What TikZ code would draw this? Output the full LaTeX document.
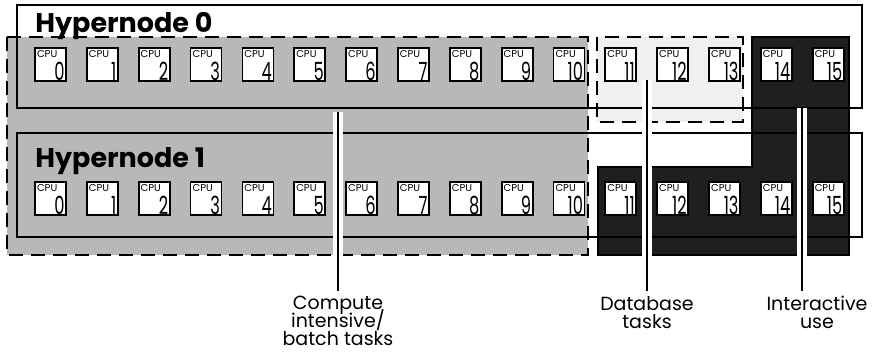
\documentclass[tikz,border=0pt]{standalone}
\usepackage{graphicx}
\usepackage{fontspec}
\setmainfont{Poppins}
\usetikzlibrary{calc}

\newcommand{\cpudigit}[1]{\scalebox{0.65}[1]{#1}}
\newcommand{\tightlines}{\fontsize{9.5}{9}\selectfont\setlength{\lineskiplimit}{-20pt}}

\tikzset{
  cpubox/.style={draw,fill=white,line width=0.9pt,minimum width=15.5pt,minimum height=16.5pt,inner sep=0pt},
  cputag/.style={font=\fontsize{5}{5}\selectfont,inner sep=0pt,anchor=north west},
  cpunum/.style={font=\fontsize{12.5}{12.5}\selectfont,inner sep=0pt,anchor=south east},
  region/.style={dash pattern=on 7pt off 4pt,line width=1.1pt},
  hyperbox/.style={line width=0.8pt},
  leader/.style={line width=1pt},
  halo/.style={white,line width=5pt},
  hlabel/.style={font=\fontsize{13.5}{13.5}\selectfont\bfseries,inner sep=0pt,anchor=base west},
  tasklabel/.style={font=\tightlines,align=center,inner sep=0pt,anchor=north}
}

\begin{document}
\begin{tikzpicture}[x=0.5pt,y=-0.5pt]
    \useasboundingbox (0,0) rectangle (876,361);
    % task regions
    \filldraw[region,fill=black!28] (7,37) rectangle (588,255);
    \filldraw[region,fill=black!6] (597,37) rectangle (743,122);
    \filldraw[line width=1pt,fill=black!88] (752,37) -- (849,37) -- (849,255)
      -- (598,255) -- (598,167) -- (752,167) -- cycle;
    % hypernodes
    \draw[hyperbox] (17,5) rectangle (862,108);
    \draw[hyperbox] (17,133) rectangle (862,237);
    \node[hlabel] (hn0) at (35,32) {Hypernode 0};
    \node[hlabel] (hn1) at (35,167) {Hypernode 1};
    % processors, 16 per hypernode
    \foreach \r/\y in {0/64.5,1/198.5}
      \foreach \i in {0,...,15} {
        \node[cpubox] (c\r-\i) at ({50.5+51.85*\i},\y) {};
        \node[cputag] (c\r-\i-t) at ($(c\r-\i.north west)+(2.5,3)$) {CPU};
        \node[cpunum] (c\r-\i-n) at ($(c\r-\i.south east)+(-2,-1)$) {\cpudigit{\i}};
      }
    % leader lines and task labels
    \coordinate (cstart) at (338,112);
    \coordinate (dstart) at (647,80);
    \coordinate (istart) at (802,108);
    \node[tasklabel] (compute) at (338,296) {Compute\\intensive/\\batch tasks};
    \node[tasklabel] (database) at (647,296) {Database\\tasks};
    \node[tasklabel] (inter) at (817,296) {Interactive\\use};
    \draw[halo] (cstart) -- ($(cstart |- compute.north)+(0,-40)$);
    \draw[halo] (dstart) -- ($(dstart |- database.north)+(0,-40)$);
    \draw[halo] (istart) -- ($(istart |- inter.north)+(0,-40)$);
    \draw[leader] (cstart) -- ($(cstart |- compute.north)+(0,-5)$);
    \draw[leader] (dstart) -- ($(dstart |- database.north)+(0,-5)$);
    \draw[leader] (istart) -- ($(istart |- inter.north)+(0,-5)$);
\end{tikzpicture}
\end{document}
